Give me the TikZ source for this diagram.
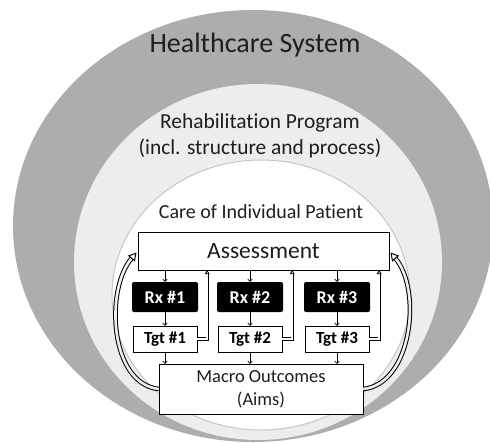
\documentclass[tikz,border=0pt]{standalone}
\usepackage{fontspec}
\setmainfont{Carlito}[Ligatures=NoCommon]
\usetikzlibrary{arrows.meta}
\definecolor{ringdark}{HTML}{ADADAD}
\definecolor{ringlight}{HTML}{EDEDED}
\definecolor{inkgray}{HTML}{1E1E1E}
\tikzset{
    plainbox/.style={draw, fill=white, inner sep=0pt, align=center, text=inkgray},
    rxbox/.style={fill=black, text=white, rounded corners=2pt, inner sep=0pt,
        minimum width=66pt, minimum height=30pt, font=\fontsize{18}{18}\selectfont\bfseries},
    tgtbox/.style={plainbox, text=black, minimum width=64pt, minimum height=26pt,
        font=\fontsize{17}{17}\selectfont\bfseries},
    ringlabel/.style={text=inkgray, align=center},
    step arrow/.style={-{To[length=3pt,width=5pt]}, line width=0.7pt},
    back arrow/.style={double, double distance=1.6pt, line width=0.8pt,
        -{Triangle[open, length=4pt, width=5pt]}},
    loop arrow/.style={double=ringlight, double distance=2.6pt, line width=1pt,
        -{Triangle[open, length=8pt, width=9pt]}, shorten >=2pt}
}
\begin{document}
\begin{tikzpicture}[x=1pt, y=-1pt]
    \useasboundingbox (0,0) rectangle (490,442);
    % nested rings
    \fill[ringdark] (253,226) ellipse [x radius=240, y radius=216];
    \fill[ringlight] (258,262) ellipse [x radius=184, y radius=178];
    \draw[fill=white, draw=gray!45, line width=1pt] (261,295) ellipse [x radius=149, y radius=135];

    \node (health) at (255,45) [ringlabel, font=\fontsize{28}{28}\selectfont] {Healthcare System};
    \node (rehab) at (260,136) [ringlabel, font=\fontsize{21.4}{26}\selectfont]
        {Rehabilitation Program\\(incl. structure and process)};
    \node (care) at (261,212) [ringlabel, font=\fontsize{20}{20}\selectfont] {Care of Individual Patient};

    \node (assess) at (263.5,251) [plainbox, minimum width=251pt, minimum height=38pt,
        font=\fontsize{23.5}{23.5}\selectfont] {Assessment};
    \node (macro) at (261,389) [plainbox, minimum width=204pt, minimum height=50pt,
        font=\fontsize{18.5}{23}\selectfont] {Macro Outcomes\\(Aims)};

    \foreach \i/\x in {1/165, 2/250, 3/337} {
            \node (rx\i) at (\x,297) [rxbox] {Rx \#\i};
            \node (tgt\i) at (\x,339) [tgtbox] {Tgt \#\i};
            \path (rx\i.east) ++(9,0) coordinate (up\i);
            \draw[step arrow] (rx\i.north |- assess.south) -- (rx\i.north);
            \draw[step arrow] (rx\i) -- (tgt\i);
            \draw[step arrow] (tgt\i) -- (tgt\i |- macro.north);
            \draw[back arrow] (tgt\i.east) -| (up\i |- assess.south);
        }

    % feedback loops round the patient
    \draw[loop arrow] (macro.west) .. controls +(-49,-5) and +(-33,39) .. (assess.west);
    \draw[loop arrow] (macro.east) .. controls +(49,-5) and +(33,39) .. (assess.east);
\end{tikzpicture}
\end{document}
